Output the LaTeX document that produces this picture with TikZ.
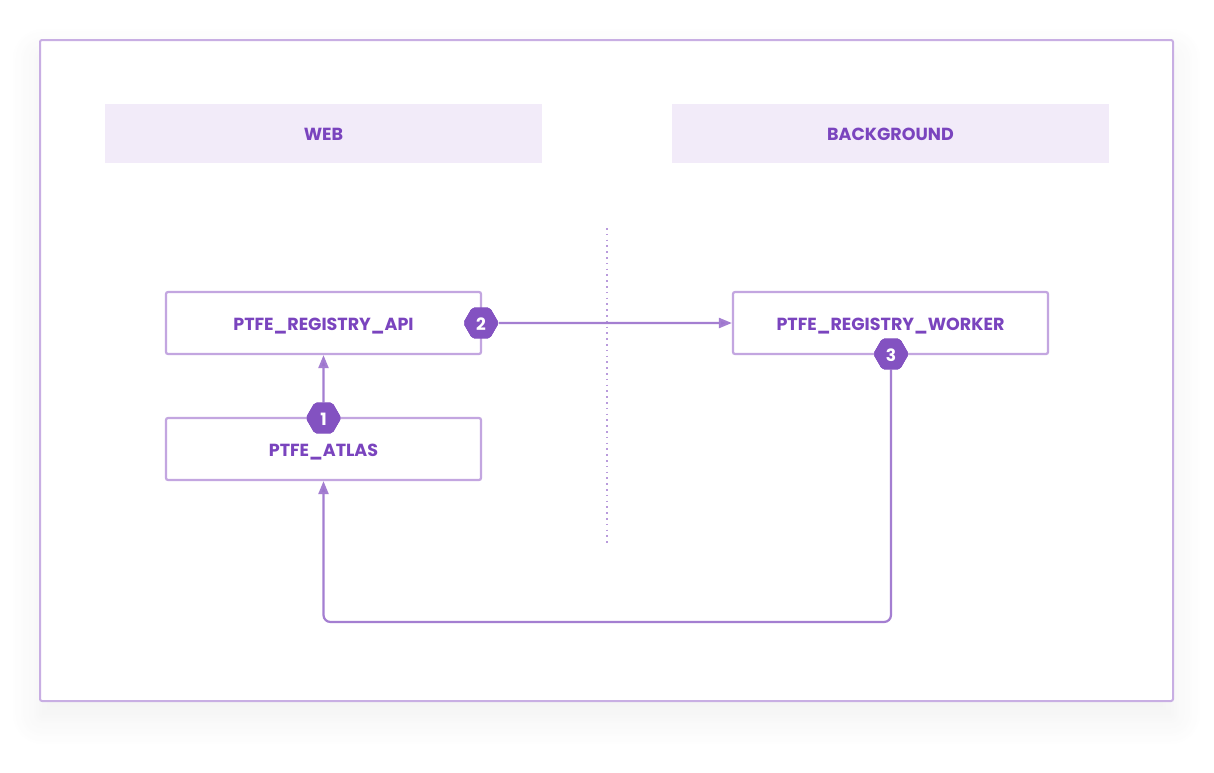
\documentclass[tikz,border=0pt]{standalone}
\usepackage{fontspec}
\setmainfont{Poppins}
\usetikzlibrary{arrows.meta,shapes.geometric,shadows.blur}
\definecolor{frameC}{HTML}{C8AEE3}
\definecolor{headFill}{HTML}{F2EBF9}
\definecolor{txtC}{HTML}{7A44BE}
\definecolor{boxC}{HTML}{C3A6E0}
\definecolor{badgeC}{HTML}{8352C1}
\definecolor{lineC}{HTML}{A47ED1}
\definecolor{dotC}{HTML}{B99BDC}
\tikzset{
  lbl/.style={font=\bfseries\fontsize{17.5}{20}\selectfont, text=txtC, text height=14.5pt, text depth=0pt},
  header/.style={fill=headFill, draw=none, minimum width=437pt, minimum height=59pt, inner sep=0pt, lbl},
  card/.style={draw=boxC, line width=2.2pt, fill=white, rounded corners=2pt, minimum width=315pt, minimum height=62pt, inner sep=0pt, lbl},
  badge/.style={regular polygon, regular polygon sides=6, minimum size=35pt, inner sep=0pt, fill=badgeC, draw=badgeC, rounded corners=2pt,
    text=white, font=\bfseries\fontsize{17}{20}\selectfont, text height=14pt, text depth=0pt},
  conn/.style={draw=lineC, line width=2.2pt, -{Triangle[length=13pt,width=10pt,fill=lineC!80!badgeC]}}
}
\begin{document}
\begin{tikzpicture}[x=1pt,y=-1pt]
\useasboundingbox (0,0) rectangle (1214,772);
% outer frame
\node[draw=frameC, line width=2pt, fill=white, rounded corners=2pt, minimum width=1133pt, minimum height=661pt, inner sep=0pt,
  blur shadow={shadow xshift=0pt, shadow yshift=-16pt, shadow blur radius=30pt, shadow opacity=6, shadow blur steps=12}]
  (frame) at (606.5,370.5) {};
% headers
\node[header] (web) at (323.5,133.5) {WEB};
\node[header] (bg) at (890.5,133.5) {BACKGROUND};
% divider
\coordinate (dtop) at (607,228);
\coordinate (dbot) at (607,544);
\draw[dotC, line width=1.8pt, dash pattern=on 1.6pt off 4.2pt] (dtop) -- (dbot);
% cards
\node[card] (api) at (323.5,323) {PTFE\_REGISTRY\_API};
\node[card] (atlas) at (323.5,449) {PTFE\_ATLAS};
\node[card] (worker) at (890.5,323) {PTFE\_REGISTRY\_WORKER};
% connectors
\coordinate (c1) at (891,622);
\coordinate (c2) at (323.5,622);
\node[badge] (b1) at (323.5,418) {1};
\node[badge] (b2) at (481,323) {2};
\node[badge] (b3) at (891,354) {3};
\draw[conn] (b1.north) -- (api.south);
\draw[conn] (b2.east) -- (worker.west);
\draw[conn, rounded corners=7pt] (b3.south) -- (c1) -- (c2) -- (atlas.south);
\node[badge] at (b1) {1};
\node[badge] at (b2) {2};
\node[badge] at (b3) {3};
\end{tikzpicture}
\end{document}
